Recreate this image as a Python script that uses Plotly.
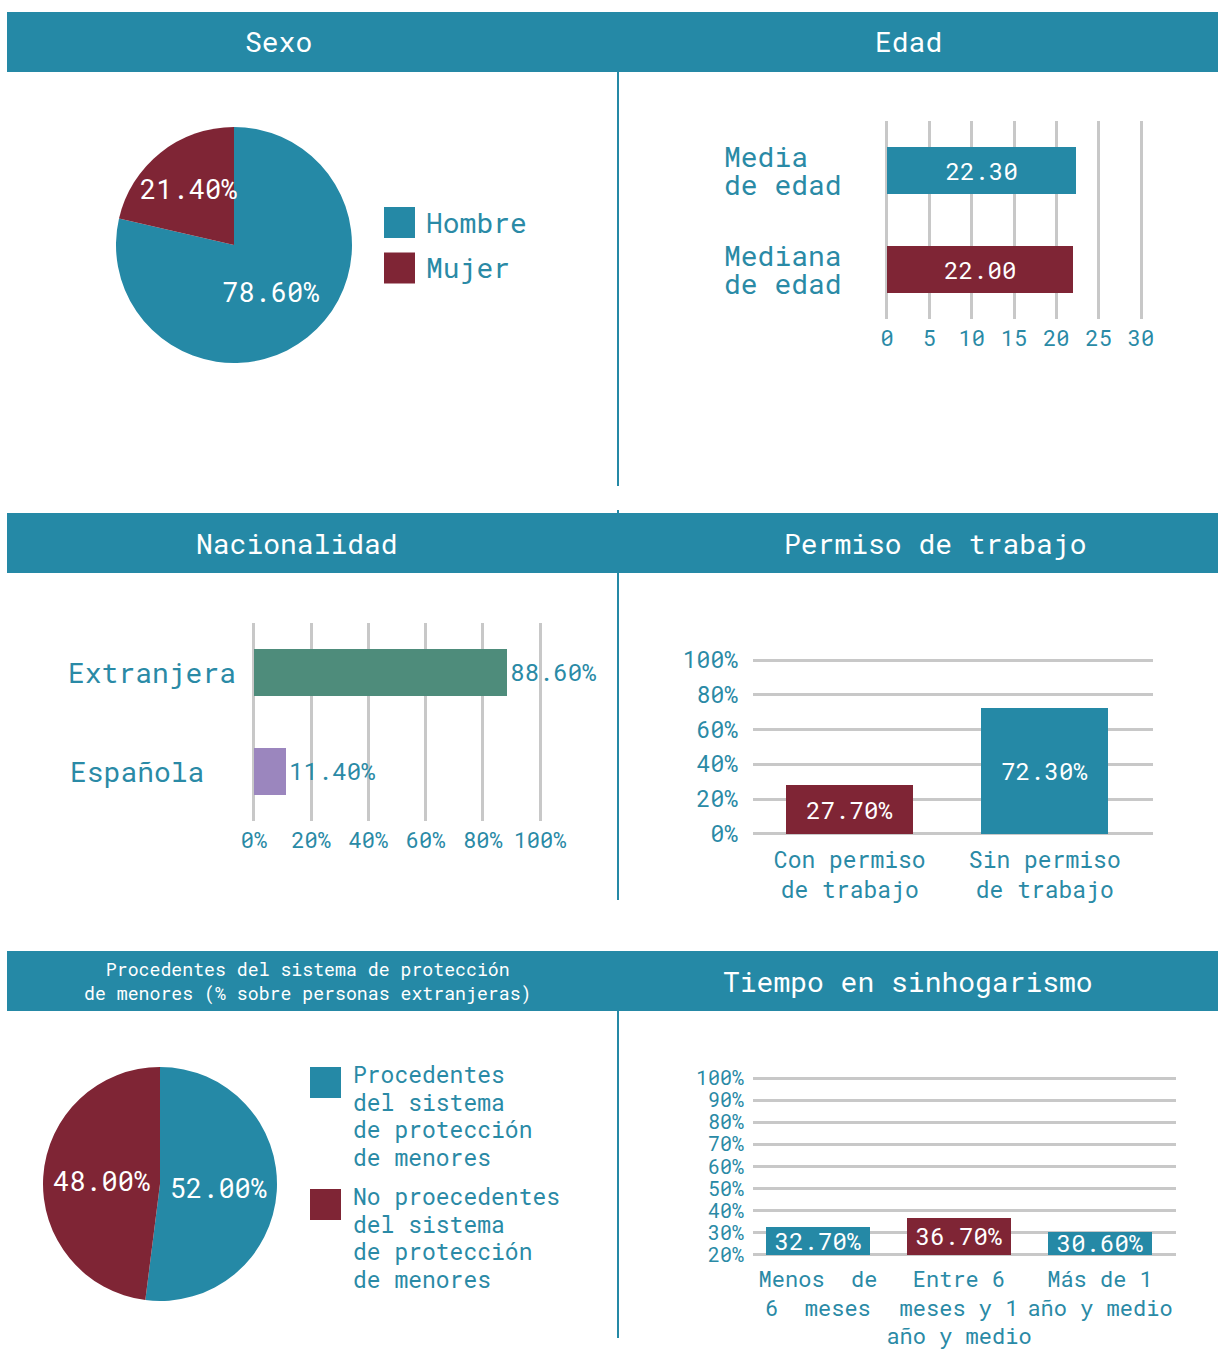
import plotly.graph_objects as go

# coordinates below are page pixels of the 1218x1349 view (page body margin removed)
OFF = 0
W, H = 1218, 1349
FONT = "Roboto Mono, DejaVu Sans Mono, Liberation Mono, monospace"
TEAL = "#2589A6"
MAROON = "#7F2535"
GREEN = "#4E8C7B"
PURPLE = "#9B86BE"
GRID = "#C8C8C8"
TXT = "#2A8AA6"
NB = "\u00a0"

# ---------------- data ----------------
headers = ["Sexo", "Edad", "Nacionalidad", "Permiso de trabajo",
           "Procedentes del sistema de protección<br>de menores (% sobre personas extranjeras)",
           "Tiempo en sinhogarismo"]

sexo_labels = ["Hombre", "Mujer"]
sexo_values = [78.6, 21.4]
sexo_colors = [TEAL, MAROON]

edad_cats = ["Media de edad", "Mediana de edad"]
edad_label_lines = [["Media", "de edad"], ["Mediana", "de edad"]]
edad_values = [22.30, 22.00]
edad_colors = [TEAL, MAROON]
edad_ticks = [0, 5, 10, 15, 20, 25, 30]

nac_cats = ["Extranjera", "Española"]
nac_values = [88.6, 11.4]
nac_colors = [GREEN, PURPLE]
nac_ticks = [0, 20, 40, 60, 80, 100]

perm_cats = ["Con permiso de trabajo", "Sin permiso de trabajo"]
perm_ticktext = ["Con permiso<br>de trabajo", "Sin permiso<br>de trabajo"]
perm_values = [27.7, 72.3]
perm_colors = [MAROON, TEAL]
perm_ticks = [0, 20, 40, 60, 80, 100]

prot_labels = ["Procedentes del sistema de protección de menores",
               "No proecedentes del sistema de protección de menores"]
prot_legend_lines = [["Procedentes", "del sistema", "de protección", "de menores"],
                     ["No proecedentes", "del sistema", "de protección", "de menores"]]
prot_values = [52.0, 48.0]
prot_colors = [TEAL, MAROON]

tiempo_cats = ["Menos de 6 meses", "Entre 6 meses y 1 año y medio", "Más de 1 año y medio"]
tiempo_ticktext = ["Menos" + NB + NB + "de<br>6" + NB + NB + "meses",
                   "Entre 6<br>meses y 1<br>año y medio",
                   "Más de 1<br>año y medio"]
tiempo_values = [32.7, 36.7, 30.6]
tiempo_colors = [TEAL, MAROON, TEAL]
tiempo_axis_min = 20
tiempo_ticks = [20, 30, 40, 50, 60, 70, 80, 90, 100]


def px(x):
    return (x - OFF) / W


def py(y):
    return 1 - (y - OFF) / H


def pct(ticks):
    return [f"{t}%" for t in ticks]


BAR_FS = 24

fig = go.Figure()

# ---------------- pies ----------------
fig.add_trace(go.Pie(
    labels=sexo_labels, values=sexo_values, sort=False, direction="clockwise", rotation=0,
    marker=dict(colors=sexo_colors, line=dict(width=0)),
    texttemplate="%{value:.2f}%", textposition="inside", insidetextorientation="horizontal",
    textfont=dict(family=FONT, size=27, color="white"),
    domain=dict(x=[px(116), px(352)], y=[py(363), py(127)]),
    showlegend=False, hoverinfo="label+percent"))

fig.add_trace(go.Pie(
    labels=prot_labels, values=prot_values, sort=False, direction="clockwise", rotation=0,
    marker=dict(colors=prot_colors, line=dict(width=0)),
    texttemplate="%{value:.2f}%", textposition="inside", insidetextorientation="horizontal",
    textfont=dict(family=FONT, size=27, color="white"),
    domain=dict(x=[px(43), px(277)], y=[py(1301), py(1067)]),
    showlegend=False, hoverinfo="label+percent"))

# ---------------- bars ----------------
fig.add_trace(go.Bar(
    y=edad_cats, x=edad_values, orientation="h", marker=dict(color=edad_colors, line=dict(width=0)),
    width=0.475, text=[f"{v:.2f}" for v in edad_values], textposition="inside",
    insidetextanchor="middle", constraintext="none",
    textfont=dict(family=FONT, size=BAR_FS, color="white"),
    xaxis="x", yaxis="y", showlegend=False))

fig.add_trace(go.Bar(
    y=nac_cats, x=nac_values, orientation="h", marker=dict(color=nac_colors, line=dict(width=0)),
    width=0.475, text=[f"{v:.2f}%" for v in nac_values], textposition="outside",
    constraintext="none", cliponaxis=False,
    textfont=dict(family=FONT, size=BAR_FS, color=TXT),
    xaxis="x2", yaxis="y2", showlegend=False))

fig.add_trace(go.Bar(
    x=perm_cats, y=perm_values, marker=dict(color=perm_colors, line=dict(width=0)),
    width=0.65, text=[f"{v:.2f}%" for v in perm_values], textposition="inside",
    insidetextanchor="middle", constraintext="none",
    textfont=dict(family=FONT, size=BAR_FS, color="white"),
    xaxis="x3", yaxis="y3", showlegend=False))

# bars of this chart start at the axis floor (20%)
fig.add_trace(go.Bar(
    x=tiempo_cats, y=[v - tiempo_axis_min for v in tiempo_values], base=tiempo_axis_min,
    customdata=tiempo_values, hovertemplate="%{x}: %{customdata:.2f}%<extra></extra>",
    marker=dict(color=tiempo_colors, line=dict(width=0)),
    width=0.74, text=[f"{v:.2f}%" for v in tiempo_values], textposition="inside",
    insidetextanchor="middle", constraintext="none", textangle=0,
    textfont=dict(family=FONT, size=BAR_FS, color="white"),
    xaxis="x4", yaxis="y4", showlegend=False))

tickfont = dict(family=FONT, size=22, color=TXT)

fig.update_layout(
    width=W, height=H, margin=dict(l=0, r=0, t=0, b=0, pad=0, autoexpand=False),
    paper_bgcolor="white", plot_bgcolor="rgba(0,0,0,0)",
    font=dict(family=FONT, color=TXT),
    bargap=0,
    uniformtext=dict(minsize=BAR_FS, mode="show"),
    # Edad
    xaxis=dict(domain=[px(885.3), px(1142.7)], range=[-0.2, 30.2], anchor="y",
               tickvals=edad_ticks, ticktext=[str(t) for t in edad_ticks],
               showgrid=True, gridcolor=GRID, gridwidth=2.5, tickangle=0,
               zeroline=False, showline=False, ticks="", tickfont=tickfont, ticklabelstandoff=4),
    yaxis=dict(domain=[py(319), py(121)], anchor="x", range=[1.5, -0.5], type="category",
               showticklabels=False, showgrid=False, zeroline=False, showline=False),
    # Nacionalidad
    xaxis2=dict(domain=[px(251.1), px(542.9)], range=[-1, 101], anchor="y2",
                tickvals=nac_ticks, ticktext=pct(nac_ticks), tickangle=0,
                showgrid=True, gridcolor=GRID, gridwidth=2.5,
                zeroline=False, showline=False, ticks="", tickfont=tickfont, ticklabelstandoff=4),
    yaxis2=dict(domain=[py(820.5), py(622.5)], anchor="x2", range=[1.5, -0.5], type="category",
                showticklabels=False, showgrid=False, zeroline=False, showline=False),
    # Permiso
    xaxis3=dict(domain=[px(753), px(1153)], range=[-0.496, 1.555], anchor="y3", type="category",
                tickvals=perm_cats, ticktext=perm_ticktext, showgrid=False, zeroline=False,
                showline=False, ticks="", tickangle=0, tickfont=dict(family=FONT, size=23, color=TXT),
                ticklabelstandoff=7),
    yaxis3=dict(domain=[py(836.6), py(657.4)], range=[-1.5, 101.5], anchor="x3",
                tickvals=perm_ticks, ticktext=pct(perm_ticks),
                showgrid=True, gridcolor=GRID, gridwidth=2.5,
                zeroline=False, showline=False, ticks="", tickfont=dict(family=FONT, size=23, color=TXT),
                ticklabelstandoff=14),
    # Tiempo
    xaxis4=dict(domain=[px(753), px(1176)], range=[-0.461, 2.539], anchor="y4", type="category",
                tickvals=tiempo_cats, ticktext=tiempo_ticktext, showgrid=False, zeroline=False,
                showline=False, ticks="", tickangle=0, tickfont=dict(family=FONT, size=22, color=TXT),
                ticklabelstandoff=8),
    yaxis4=dict(domain=[py(1256.1), py(1076.9)], range=[19.5, 100.5], anchor="x4",
                tickvals=tiempo_ticks, ticktext=pct(tiempo_ticks),
                showgrid=True, gridcolor=GRID, gridwidth=2.5,
                zeroline=False, showline=False, ticks="", tickfont=dict(family=FONT, size=20, color=TXT),
                ticklabelstandoff=8),
)

shapes = []
annotations = []

# header bands
bands = [(12, 72), (513, 573), (951, 1011)]
header_centers = [278, 908, 297, 935, 308, 908]
for i, h in enumerate(headers):
    y0, y1 = bands[i // 2]
    if i % 2 == 0:
        shapes.append(dict(type="rect", xref="paper", yref="paper", x0=px(7), x1=1,
                           y0=py(y1), y1=py(y0), fillcolor=TEAL, line=dict(width=0), layer="below"))
    small = "<br>" in h
    annotations.append(dict(xref="paper", yref="paper", x=px(header_centers[i]), y=py((y0 + y1) / 2),
                            text=h, showarrow=False, xanchor="center", yanchor="middle",
                            font=dict(family=FONT, size=18.2 if small else 28, color="white")))

# vertical dividers
for y0, y1 in [(72, 486), (510, 513), (573, 900), (1011, 1338)]:
    shapes.append(dict(type="line", xref="paper", yref="paper", x0=px(618), x1=px(618),
                       y0=py(y1), y1=py(y0), line=dict(color=TEAL, width=2)))

# Sexo legend
for i, (lab, col) in enumerate(zip(sexo_labels, sexo_colors)):
    top = 207 + i * 45.5
    shapes.append(dict(type="rect", xref="paper", yref="paper", x0=px(384), x1=px(415),
                       y0=py(top + 31), y1=py(top), fillcolor=col, line=dict(width=0)))
    annotations.append(dict(xref="paper", yref="paper", x=px(424), y=py(top + 15.5), text=lab,
                            showarrow=False, xanchor="left", yanchor="middle",
                            font=dict(family=FONT, size=28, color=TXT)))

# protección legend
for i, (lines, col) in enumerate(zip(prot_legend_lines, prot_colors)):
    top = 1067 + i * 122
    shapes.append(dict(type="rect", xref="paper", yref="paper", x0=px(310), x1=px(341),
                       y0=py(top + 31), y1=py(top), fillcolor=col, line=dict(width=0)))
    for k, ln in enumerate(lines):
        annotations.append(dict(xref="paper", yref="paper", x=px(351), y=py(top + 7 + k * 27.6),
                                text=ln, showarrow=False, xanchor="left", yanchor="middle",
                                font=dict(family=FONT, size=23, color=TXT)))

# Edad category labels (left aligned, tight line spacing)
for cat, lines in zip(edad_cats, edad_label_lines):
    for k, ln in enumerate(lines):
        annotations.append(dict(xref="paper", yref="y", x=px(722), y=cat, yshift=14 - 28 * k,
                                text=ln, showarrow=False, xanchor="left", yanchor="middle",
                                font=dict(family=FONT, size=28, color=TXT)))

# Nacionalidad category labels
for cat, xx in zip(nac_cats, [66, 68]):
    annotations.append(dict(xref="paper", yref="y2", x=px(xx), y=cat, text=cat, showarrow=False,
                            xanchor="left", yanchor="middle",
                            font=dict(family=FONT, size=28, color=TXT)))

fig.update_layout(shapes=shapes, annotations=annotations)
fig.write_html("out.html",
               config={"displayModeBar": False},
               post_script="document.body.style.margin='0';"
                           "document.documentElement.style.overflow='hidden';"
                           "document.body.style.overflow='hidden';")
